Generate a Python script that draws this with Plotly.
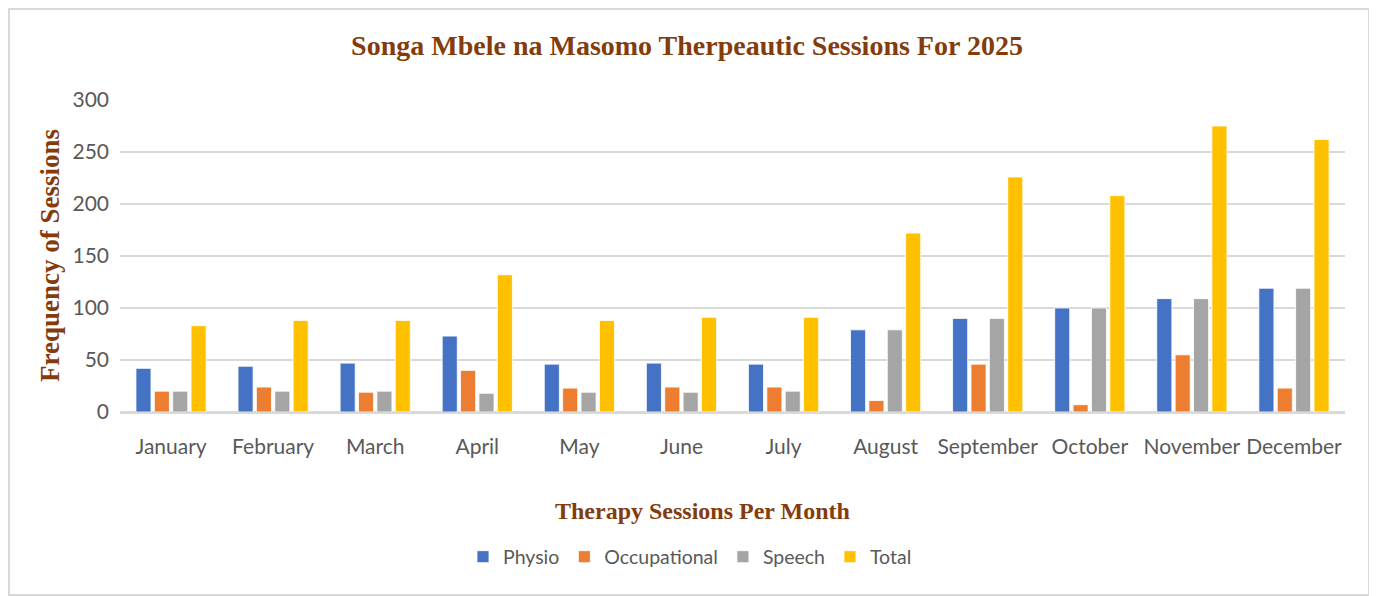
import plotly.graph_objects as go

months = ["January", "February", "March", "April", "May", "June", "July",
          "August", "September", "October", "November", "December"]
physio = [42, 44, 47, 73, 46, 47, 46, 79, 90, 100, 109, 119]
occupational = [20, 24, 19, 40, 23, 24, 24, 11, 46, 7, 55, 23]
speech = [20, 20, 20, 18, 19, 19, 20, 79, 90, 100, 109, 119]
total = [83, 88, 88, 132, 88, 91, 91, 172, 226, 208, 275, 262]

series = [("Physio", physio, "#4472C4"),
          ("Occupational", occupational, "#ED7D31"),
          ("Speech", speech, "#A5A5A5"),
          ("Total", total, "#FFC000")]

OFF = 8  # page body margin
W, H = 1377 - OFF, 596 - OFF
L, R, T, B = 120 - OFF, 32, 100 - OFF, 184
pw, ph = W - L - R, H - T - B

def px(x):
    return (x - OFF - L) / pw

def py(y):
    return (H - B - (y - OFF)) / ph

fig = go.Figure()
for name, vals, col in series:
    fig.add_trace(go.Bar(x=months, y=vals, name=name,
                         marker=dict(color=col, line=dict(color="white", width=0.8))))

brown = "#843C0C"
serif = "Liberation Serif"
tick_font = dict(family="Lato", size=21, color="#595959")
legend_font = dict(family="Lato", size=19.5, color="#595959")

fig.update_layout(
    width=W, height=H,
    margin=dict(l=L, r=R, t=T, b=B),
    paper_bgcolor="white", plot_bgcolor="white",
    barmode="group", bargap=0.28, bargroupgap=0.18,
    title=dict(text="<b>Songa Mbele na Masomo Therpeautic Sessions For 2025</b>",
               x=(687 - OFF) / W, xanchor="center", xref="container",
               y=1 - (45 - OFF) / H, yanchor="middle", yref="container",
               font=dict(family=serif, size=28, color=brown)),
    xaxis=dict(showgrid=False, showline=True, linecolor="#D9D9D9", linewidth=1.5,
               tickfont=tick_font, ticks="", ticklabelstandoff=15),
    yaxis=dict(range=[0, 300], dtick=50, showgrid=True, gridcolor="#D9D9D9",
               gridwidth=1.5, zeroline=True, zerolinecolor="#D9D9D9", zerolinewidth=1.5,
               tickfont=tick_font, ticks="", ticklabelstandoff=10),
    legend=dict(orientation="h", x=px(690), xanchor="center", y=py(557), yanchor="middle",
                font=legend_font, itemwidth=30, traceorder="normal"),
    annotations=[
        dict(text="<b>Therapy Sessions Per Month</b>", xref="paper", yref="paper",
             x=px(702), y=py(511), xanchor="center", yanchor="middle", showarrow=False,
             font=dict(family=serif, size=24, color=brown)),
        dict(text="<b>Frequency of Sessions</b>", xref="paper", yref="paper",
             x=px(50), y=py(256), xanchor="center", yanchor="middle", showarrow=False,
             textangle=-90, font=dict(family=serif, size=27, color=brown)),
    ],
    shapes=[dict(type="rect", xref="paper", yref="paper",
                 x0=px(9), x1=px(1369), y0=py(595), y1=py(9),
                 line=dict(color="#D9D9D9", width=2), layer="below")],
)

fig.write_html("out.html")
